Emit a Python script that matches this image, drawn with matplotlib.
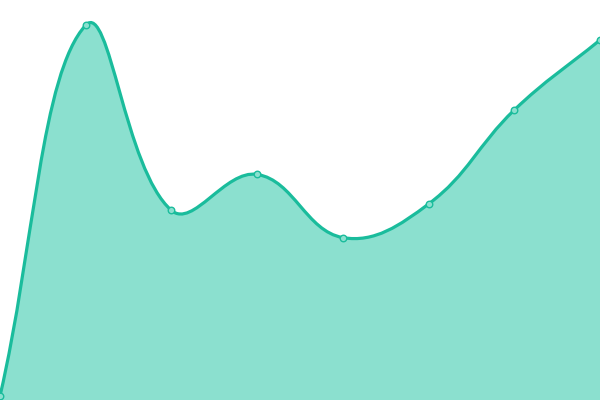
import numpy as np
import matplotlib
matplotlib.use("Agg")
import matplotlib.pyplot as plt
from matplotlib.path import Path
from matplotlib.patches import PathPatch

# values (y axis 0..100, bottom of chart = 0)
idx = [0, 1, 2, 3, 4, 5, 6, 7]
vals = [1.0, 93.7, 47.4, 56.4, 40.6, 49.0, 72.5, 90.0]

LINE = "#1abc9c"
FILL = "#8be0cf"
TENSION = 0.4

fig = plt.figure(figsize=(6, 4), dpi=100)
ax = fig.add_axes([0, 0, 1, 1])
ax.set_xlim(0, 7)
ax.set_ylim(0, 100)
ax.axis("off")

# spline like chart.js: control points computed in pixel space
pts = ax.transData.transform(np.column_stack([idx, vals]))
n = len(pts)
cps = []
for i in range(n):
    prev = pts[max(i - 1, 0)]
    cur = pts[i]
    nxt = pts[min(i + 1, n - 1)]
    d01 = np.hypot(*(cur - prev))
    d12 = np.hypot(*(nxt - cur))
    tot = d01 + d12
    s01 = d01 / tot if tot else 0
    s12 = d12 / tot if tot else 0
    cps.append((cur - TENSION * s01 * (nxt - prev), cur + TENSION * s12 * (nxt - prev)))

verts = [pts[0]]
codes = [Path.MOVETO]
for i in range(n - 1):
    verts += [cps[i][1], cps[i + 1][0], pts[i + 1]]
    codes += [Path.CURVE4] * 3
inv = ax.transData.inverted()
curve = inv.transform(np.array(verts))

fill_verts = np.vstack([curve, [[idx[-1], 0], [idx[0], 0], curve[0]]])
fill_codes = codes + [Path.LINETO, Path.LINETO, Path.CLOSEPOLY]
ax.add_patch(PathPatch(Path(fill_verts, fill_codes), facecolor=FILL, edgecolor="none", zorder=1))
ax.add_patch(PathPatch(Path(curve, codes), facecolor="none", edgecolor=LINE, lw=2.3, zorder=2,
                       capstyle="round", joinstyle="round"))

ax.scatter(idx, vals, s=22, facecolor=FILL, edgecolor=LINE, linewidth=1, zorder=3, clip_on=False)

fig.savefig("out.png", dpi=100)
